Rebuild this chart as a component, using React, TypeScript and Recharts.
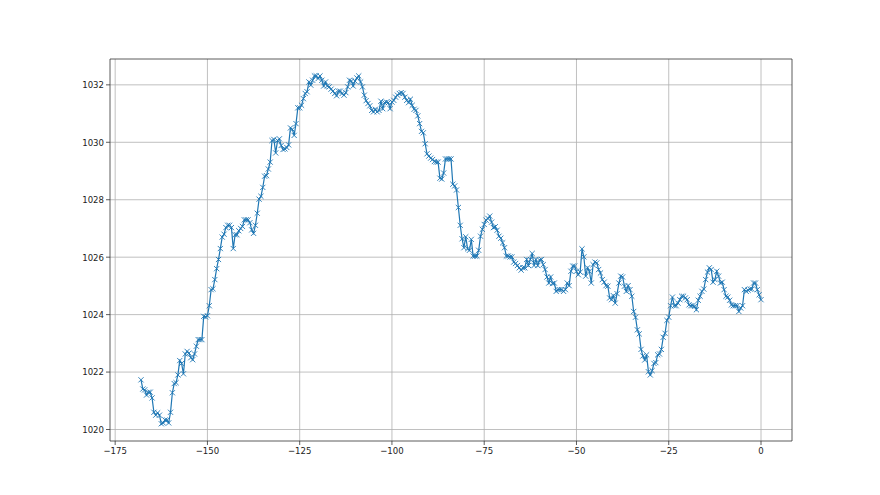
import React from 'react';
import { LineChart, Line, XAxis, YAxis, CartesianGrid, ReferenceArea } from 'recharts';

// hours before now, one reading every half hour
const START_HOUR = -168;
const STEP_HOURS = 0.5;

// sea level pressure (hPa)
const pressure = [
  1021.73, 1021.41, 1021.38, 1021.2, 1021.3, 1021.3, 1021.1, 1020.6, 1020.5, 1020.58,
  1020.5, 1020.2, 1020.23, 1020.33, 1020.33, 1020.23, 1020.6, 1021.28, 1021.6, 1021.63,
  1021.9, 1022.4, 1022.3, 1021.94, 1022.63, 1022.72, 1022.66, 1022.5, 1022.43, 1022.63,
  1022.9, 1023.13, 1023.13, 1023.13, 1023.94, 1023.92, 1023.96, 1024.31, 1024.87, 1024.9,
  1025.22, 1025.6, 1025.92, 1026.3, 1026.7, 1026.8, 1027.03, 1027.11, 1027.11, 1027.03,
  1026.3, 1026.78, 1026.78, 1026.92, 1027.0, 1027.07, 1027.3, 1027.3, 1027.3, 1027.2,
  1026.95, 1026.83, 1027.11, 1027.53, 1028.02, 1028.12, 1028.43, 1028.82, 1028.84, 1029.07,
  1029.31, 1030.06, 1030.1, 1029.63, 1030.06, 1030.12, 1029.89, 1029.75, 1029.77, 1029.82,
  1029.91, 1030.5, 1030.45, 1030.24, 1030.65, 1031.2, 1031.2, 1031.29, 1031.52, 1031.7,
  1031.76, 1032.1, 1031.99, 1032.16, 1032.31, 1032.31, 1032.22, 1032.31, 1032.16, 1031.96,
  1032.1, 1031.96, 1031.93, 1031.85, 1031.78, 1031.7, 1031.62, 1031.78, 1031.78, 1031.7,
  1031.64, 1031.73, 1031.93, 1032.16, 1032.13, 1031.96, 1032.13, 1032.24, 1032.31, 1032.1,
  1031.93, 1031.64, 1031.45, 1031.35, 1031.27, 1031.11, 1031.06, 1031.15, 1031.06, 1031.11,
  1031.43, 1031.17, 1031.38, 1031.4, 1031.38, 1031.17, 1031.4, 1031.46, 1031.57, 1031.64,
  1031.7, 1031.73, 1031.7, 1031.57, 1031.46, 1031.38, 1031.5, 1031.29, 1031.15, 1031.11,
  1030.92, 1030.65, 1030.38, 1030.33, 1029.95, 1029.6, 1029.52, 1029.45, 1029.4, 1029.33,
  1029.31, 1029.31, 1028.75, 1028.72, 1028.93, 1029.42, 1029.42, 1029.42, 1029.42, 1028.54,
  1028.48, 1028.34, 1027.73, 1027.11, 1026.64, 1026.33, 1026.71, 1026.29, 1026.24, 1026.62,
  1026.04, 1026.04, 1026.04, 1026.24, 1026.73, 1026.97, 1027.14, 1027.29, 1027.35, 1027.43,
  1027.22, 1027.03, 1027.06, 1026.94, 1026.73, 1026.66, 1026.5, 1026.33, 1026.04, 1026.04,
  1026.01, 1026.01, 1025.83, 1025.78, 1025.71, 1025.63, 1025.55, 1025.63, 1025.63, 1025.92,
  1025.71, 1025.92, 1026.13, 1025.71, 1025.92, 1025.71, 1025.9, 1025.92, 1025.74, 1025.57,
  1025.31, 1025.1, 1025.31, 1025.08, 1025.1, 1024.81, 1024.87, 1024.87, 1024.87, 1024.81,
  1024.87, 1025.1, 1025.01, 1025.51, 1025.69, 1025.69, 1025.51, 1025.39, 1025.48, 1026.29,
  1026.01, 1025.34, 1025.63, 1025.51, 1025.1, 1025.74, 1025.83, 1025.8, 1025.57, 1025.45,
  1025.22, 1025.13, 1025.01, 1024.99, 1024.58, 1024.52, 1024.66, 1024.4, 1024.73, 1025.1,
  1025.34, 1025.31, 1024.99, 1024.81, 1025.01, 1024.87, 1024.64, 1024.11, 1023.91, 1023.47,
  1023.33, 1022.79, 1022.56, 1022.42, 1022.6, 1022.01, 1021.9, 1022.05, 1022.3, 1022.33,
  1022.6, 1022.63, 1022.79, 1023.21, 1023.35, 1023.8, 1023.91, 1024.31, 1024.61, 1024.31,
  1024.31, 1024.4, 1024.52, 1024.64, 1024.64, 1024.58, 1024.52, 1024.34, 1024.31, 1024.31,
  1024.29, 1024.17, 1024.5, 1024.64, 1024.81, 1024.89, 1025.22, 1025.48, 1025.63, 1025.57,
  1025.13, 1025.22, 1025.51, 1025.34, 1025.1, 1025.13, 1024.87, 1024.64, 1024.61, 1024.5,
  1024.34, 1024.31, 1024.31, 1024.31, 1024.11, 1024.23, 1024.31, 1024.87, 1024.81, 1024.85,
  1024.89, 1024.89, 1025.1, 1025.1, 1024.87, 1024.69, 1024.52,
];

const xTicks = [-175, -150, -125, -100, -75, -50, -25, 0];
const yTicks = [1020, 1022, 1024, 1026, 1028, 1030, 1032];

const X_DOMAIN: [number, number] = [-176.4, 8.4];
const Y_DOMAIN: [number, number] = [1019.6, 1032.9];

const data = pressure.map((p, i) => ({ hour: START_HOUR + i * STEP_HOURS, p }));

const BLUE = '#1f77b4';
const SPINE = '#333';
const tickStyle = { fill: '#222', fontSize: 9.5, fontFamily: 'DejaVu Sans Condensed, Liberation Sans Narrow, DejaVu Sans, sans-serif' };
const fmt = (v: number) => String(v).replace('-', '\u2212');

const XMark = (props: any) => {
  const { cx, cy, index } = props;
  const s = 2.6;
  return (
    <path
      key={'m' + index}
      d={`M${cx - s},${cy - s}L${cx + s},${cy + s}M${cx - s},${cy + s}L${cx + s},${cy - s}`}
      stroke={BLUE}
      strokeWidth={0.9}
      fill="none"
    />
  );
};

export default function App() {
  return (
    <div style={{ position: 'absolute', left: 0, top: 0, width: 880, height: 495, background: '#fff' }}>
      <LineChart width={880} height={495} data={data} margin={{ top: 59, right: 88, bottom: 24, left: 60 }}>
        <CartesianGrid stroke="#b0b0b0" strokeWidth={0.8} verticalValues={xTicks} horizontalValues={yTicks} />
        <XAxis
          dataKey="hour"
          type="number"
          domain={X_DOMAIN}
          ticks={xTicks}
          allowDataOverflow
          height={30}
          tickSize={4}
          tickLine={{ stroke: SPINE, strokeWidth: 0.8 }}
          axisLine={false}
          tick={tickStyle}
          tickFormatter={fmt}
        />
        <YAxis
          type="number"
          domain={Y_DOMAIN}
          ticks={yTicks}
          allowDataOverflow
          width={50}
          tickSize={4}
          tickLine={{ stroke: SPINE, strokeWidth: 0.8 }}
          axisLine={false}
          tick={tickStyle}
        />
        <ReferenceArea x1={X_DOMAIN[0]} x2={X_DOMAIN[1]} y1={Y_DOMAIN[0]} y2={Y_DOMAIN[1]} fill="none" stroke={SPINE} strokeWidth={0.8} />
        <Line
          dataKey="p"
          stroke={BLUE}
          strokeWidth={1.2}
          dot={XMark}
          activeDot={false}
          isAnimationActive={false}
          type="linear"
        />
      </LineChart>
    </div>
  );
}
